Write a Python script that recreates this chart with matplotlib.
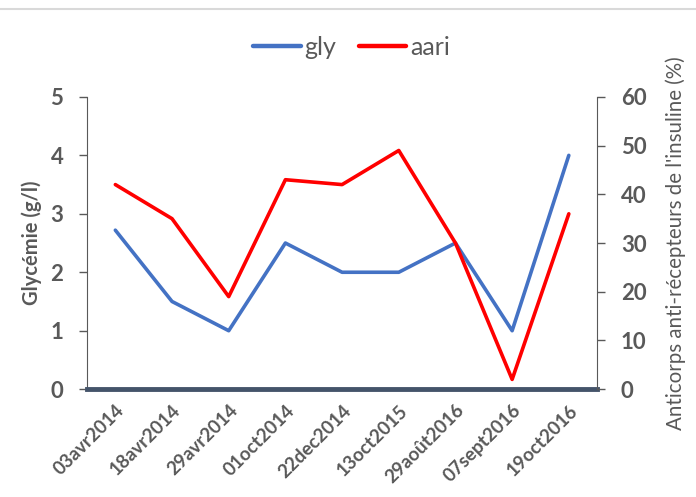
import matplotlib
matplotlib.use("Agg")
import matplotlib.pyplot as plt
from matplotlib.lines import Line2D

plt.rcParams['font.family'] = ['Lato', 'DejaVu Sans']

dates = ["03avr2014", "18avr2014", "29avr2014", "01oct2014", "22dec2014",
         "13oct2015", "29août2016", "07sept2016", "19oct2016"]
gly = [2.72, 1.5, 1.0, 2.5, 2.0, 2.0, 2.5, 1.0, 4.0]
aari = [42, 35, 19, 43, 42, 49, 30, 2, 36]

txt = '#595959'
blue = '#4472C4'
red = '#FF0000'

fig = plt.figure(figsize=(6.96, 4.97), dpi=100)
ax = fig.add_axes([0.125, 0.217, 0.733, 0.588])
ax2 = ax.twinx()

x = list(range(len(dates)))
ax.plot(x, gly, color=blue, lw=2.6, solid_capstyle='round', zorder=3)
ax2.plot(x, aari, color=red, lw=2.6, solid_capstyle='round', zorder=3)

ax.set_xlim(-0.5, len(dates) - 0.5)
ax.set_ylim(0, 5)
ax2.set_ylim(0, 60)
ax.set_yticks(range(0, 6))
ax2.set_yticks(range(0, 61, 10))
ax.set_xticks(x)
ax.set_xticklabels(dates, rotation=45, ha='right', rotation_mode='anchor',
                   fontsize=13.5, fontweight='bold', color=txt)
ax.tick_params(axis='x', length=0, pad=9)

for a in (ax, ax2):
    a.tick_params(axis='y', labelsize=16, labelcolor=txt, color=txt, length=6, width=1, pad=11)
    for lab in a.get_yticklabels():
        lab.set_fontweight('bold')
    for s in a.spines.values():
        s.set_visible(False)

ax.spines['left'].set_visible(True)
ax.spines['left'].set_color(txt)
ax2.spines['right'].set_visible(True)
ax2.spines['right'].set_color(txt)
ax.axhline(0, color='#44546A', lw=3.5, zorder=5, clip_on=False)

ax.set_ylabel("Glycémie (g/l)", fontsize=14.5, fontweight='bold', color=txt, labelpad=6)
ax2.set_ylabel("Anticorps anti-récepteurs de l'insuline (%)", fontsize=14.8,
               color=txt, labelpad=14)

handles = [Line2D([0], [0], color=blue, lw=3.2, solid_capstyle='round'),
           Line2D([0], [0], color=red, lw=3.2, solid_capstyle='round')]
fig.legend(handles, ["gly", "aari"], loc='center', bbox_to_anchor=(0.505, 0.905),
           ncol=2, frameon=False, fontsize=18, labelcolor=txt,
           handlelength=1.9, handletextpad=0.15, columnspacing=0.9)

fig.add_artist(Line2D([0, 1], [0.982, 0.982], color='#D9D9D9', lw=1.5,
                      transform=fig.transFigure))

fig.savefig("out.png", dpi=100)
